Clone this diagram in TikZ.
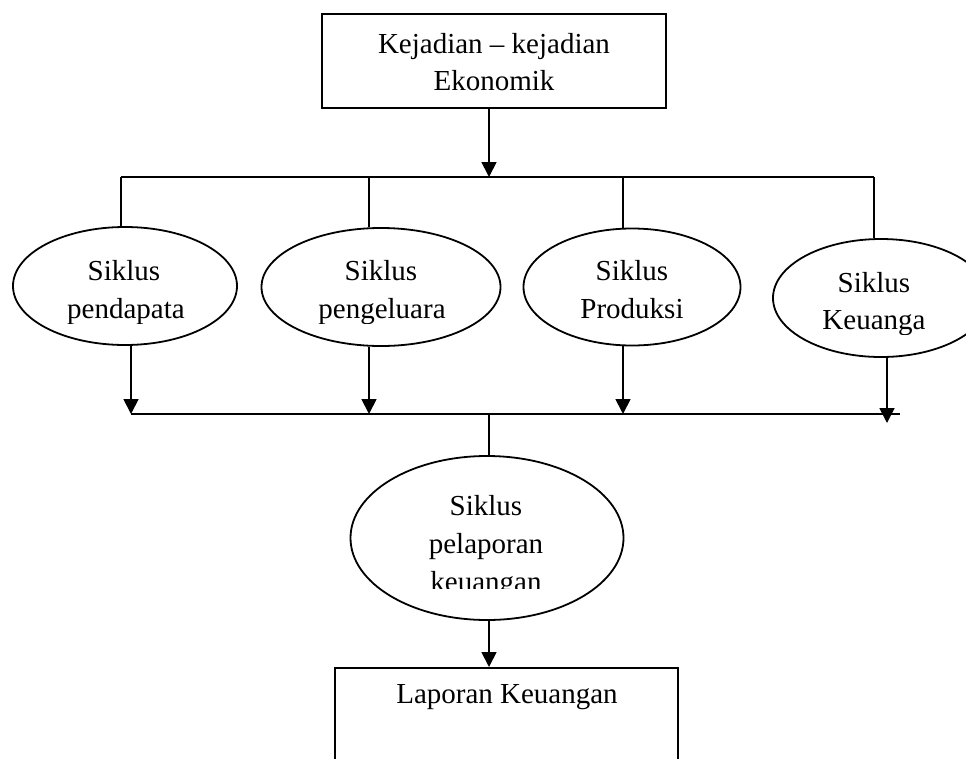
\documentclass[tikz,border=0pt]{standalone}
\usepackage{fontspec}
\setmainfont{Liberation Serif}
\usetikzlibrary{arrows.meta,shapes.geometric}
\begin{document}
\begin{tikzpicture}[x=1pt,y=-1pt,
  line width=1.8pt,
  boxnode/.style={draw,rectangle,inner sep=0pt},
  ellnode/.style={draw,ellipse,inner sep=0pt},
  txt/.style={anchor=base,inner sep=0pt,font=\fontsize{29}{35}\selectfont},
  arr/.style={-{Triangle[width=15pt,length=15pt]}},
  ]
\clip (0,0) rectangle (966,758);
% top box
\node[boxnode,minimum width=344pt,minimum height=94pt] (top) at (494,61) {};
\node[txt] (topa) at (494,53) {Kejadian – kejadian};
\node[txt] (topb) at (494,90) {Ekonomik};
% ellipses
\node[ellnode,minimum width=224pt,minimum height=118pt] (e1) at (125,286) {};
\node[ellnode,minimum width=239pt,minimum height=118pt] (e2) at (381,287) {};
\node[ellnode,minimum width=217pt,minimum height=117pt] (e3) at (632,287) {};
\node[ellnode,minimum width=216pt,minimum height=118pt] (e4) at (881,298) {};
\node[ellnode,minimum width=273pt,minimum height=164pt] (e5) at (487,538) {};
% ellipse texts
\node[txt] (e1a) at (124,280) {Siklus};
\node[txt] (e2a) at (381,280) {Siklus};
\node[txt] (e3a) at (632,280) {Siklus};
\node[txt] (e4a) at (874,292) {Siklus};
\node[txt] (e3b) at (632,318) {Produksi};
\begin{scope}
  \clip (0,290) rectangle (966,323);
  \node[txt] (e1b) at (126,318) {pendapata};
  \node[txt] (e2b) at (382,318) {pengeluara};
\end{scope}
\begin{scope}
  \clip (700,300) rectangle (966,334);
  \node[txt] (e4b) at (874,329) {Keuanga};
\end{scope}
\node[txt] (e5a) at (486,515) {Siklus};
\node[txt] (e5b) at (486,553) {pelaporan};
\begin{scope}
  \clip (350,560) rectangle (630,588);
  \node[txt] (e5c) at (486,591) {keuangan};
\end{scope}
% bottom box (open at the bottom, runs past the page)
\node[boxnode,minimum width=343pt,minimum height=160pt,anchor=north] (bot) at (506.5,667) {};
\node[txt] (bott) at (507,703) {Laporan Keuangan};
% junction coordinates
\coordinate (j0) at (489,177);
\coordinate (b1) at (121,177);
\coordinate (b2) at (369,177);
\coordinate (b3) at (623,177);
\coordinate (b4) at (874,177);
\coordinate (d1) at (131,414);
\coordinate (d2) at (369,414);
\coordinate (d3) at (623,414);
\coordinate (d4) at (887,423);
\coordinate (dl) at (131,414);
\coordinate (dr) at (900,414);
\coordinate (dm) at (489,414);
\coordinate (k5) at (489,620);
% connectors
\draw[arr] (top.south -| j0) -- (j0);
\draw (b1) -- (b4);
\draw (b1) -- (e1.north -| b1);
\draw (b2) -- (e2.north -| b2);
\draw (b3) -- (e3.north -| b3);
\draw (b4) -- (e4.north -| b4);
\draw[arr] (e1.south -| d1) -- (d1);
\draw[arr] (e2.south -| d2) -- (d2);
\draw[arr] (e3.south -| d3) -- (d3);
\draw[arr] (e4.south -| d4) -- (d4);
\draw (dl) -- (dr);
\draw (dm) -- (e5.north -| dm);
\draw[arr] (e5.south -| k5) -- (bot.north -| k5);
\end{tikzpicture}
\end{document}
